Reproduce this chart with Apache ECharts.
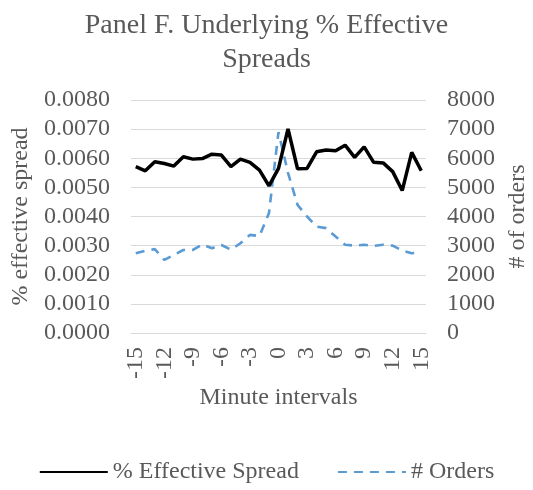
<!DOCTYPE html>
<html>
<head>
<meta charset="utf-8">
<script src="https://cdn.jsdelivr.net/npm/echarts@6/dist/echarts.min.js"></script>
<style>html,body{margin:0;padding:0;background:#fff}#c{width:533px;height:490px}</style>
</head>
<body>
<div id="c"></div>
<script>
const minutes = [-15,-14,-13,-12,-11,-10,-9,-8,-7,-6,-5,-4,-3,-2,-1,0,1,2,3,4,5,6,7,8,9,10,11,12,13,14,15];
const spread = [0.00571,0.00557,0.00588,0.00582,0.00573,0.00605,0.00597,0.00599,0.00614,0.00611,0.00571,0.00597,0.00586,0.00559,0.00505,0.00565,0.00701,0.00564,0.00565,0.00622,0.00628,0.00626,0.00645,0.00603,0.00639,0.00586,0.00584,0.00554,0.00489,0.00620,0.00557];
const orders = [2740,2820,2880,2510,2680,2850,2850,3040,2910,3020,2860,3080,3370,3330,4120,6900,5500,4400,4000,3650,3600,3310,3030,3000,3030,2990,3030,3000,2830,2740,2760];

const font = "'Liberation Serif','Times New Roman',serif";
const txt = '#595959';
const chart = echarts.init(document.getElementById('c'), null, {renderer:'canvas'});
chart.setOption({
  animation: false,
  textStyle: {fontFamily: font},
  title: {
    text: 'Panel F. Underlying % Effective\nSpreads',
    left: 'center', top: 4,
    textStyle: {fontFamily: font, fontSize: 28, fontWeight: 'normal', color: txt, lineHeight: 34}
  },
  grid: {left: 131, right: 107, top: 100, bottom: 157, containLabel: false, outerBoundsMode: 'none'},
  legend: {
    bottom: 1, left: 'center', itemGap: 38, itemWidth: 68, itemHeight: 14,
    itemStyle: {opacity: 0},
    textStyle: {fontFamily: font, fontSize: 24, color: txt},
    data: ['% Effective Spread', '# Orders']
  },
  xAxis: {
    type: 'category', data: minutes, boundaryGap: true,
    name: 'Minute intervals', nameLocation: 'middle', nameGap: 53,
    nameTextStyle: {fontFamily: font, fontSize: 24, color: txt},
    axisLine: {show: true, lineStyle: {color: '#d9d9d9', width: 1}},
    axisTick: {show: false},
    axisLabel: {interval: 2, rotate: 90, fontFamily: font, fontSize: 24, color: txt, margin: 14}
  },
  yAxis: [{
    type: 'value', min: 0, max: 0.008, interval: 0.001,
    name: '% effective spread', nameLocation: 'middle', nameGap: 97,
    nameTextStyle: {fontFamily: font, fontSize: 24, color: txt},
    axisLine: {show: false}, axisTick: {show: false},
    splitLine: {lineStyle: {color: '#d9d9d9', width: 1}},
    axisLabel: {formatter: v => v.toFixed(4), fontFamily: font, fontSize: 24, color: txt, margin: 21}
  }, {
    type: 'value', min: 0, max: 8000, interval: 1000, position: 'right',
    name: '# of orders', nameLocation: 'middle', nameGap: 78, nameRotate: 90,
    nameTextStyle: {fontFamily: font, fontSize: 24, color: txt},
    axisLine: {show: false}, axisTick: {show: false},
    splitLine: {show: false},
    axisLabel: {formatter: v => String(v), fontFamily: font, fontSize: 24, color: txt, margin: 21}
  }],
  series: [{
    name: '% Effective Spread', type: 'line', yAxisIndex: 0, data: spread,
    symbol: 'none', lineStyle: {color: '#000', width: 3.5},
    itemStyle: {color: '#000'}, z: 3
  }, {
    name: '# Orders', type: 'line', yAxisIndex: 1, data: orders,
    symbol: 'none', lineStyle: {color: '#5b9bd5', width: 2.6, type: [9, 7]},
    itemStyle: {color: '#5b9bd5'}, z: 2
  }]
});
</script>
</body>
</html>
